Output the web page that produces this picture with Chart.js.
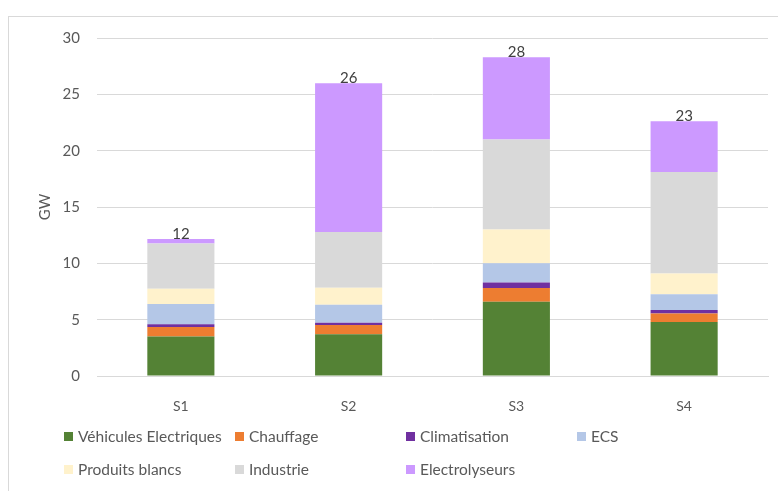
<!doctype html>
<html lang="fr">
  <head>
    <meta charset="UTF-8" />
    <title>Puissance par scénario</title>
    <script src="https://cdn.jsdelivr.net/npm/chart.js"></script>
    <style>
      body { margin: 0; background: white; font-family: Lato, sans-serif; }
      #frame {
        position: absolute; left: 8px; top: 16px; width: 770px; height: 475px;
        border-left: 1px solid #d9d9d9; border-top: 1px solid #d9d9d9;
      }
      #wrap { position: absolute; left: 0; top: 0; width: 778px; height: 491px; }
      #legend { position: absolute; left: 64px; top: 427px; width: 700px; }
      .item {
        position: absolute; display: flex; align-items: center;
        font-size: 15.5px; color: #595959; white-space: nowrap;
      }
      .box { width: 9px; height: 9px; margin-right: 5px; }
    </style>
  </head>
  <body>
    <div id="frame"></div>
    <div id="wrap"><canvas id="chart" width="778" height="491"></canvas></div>
    <div id="legend"></div>

    <script>
      const categories = ["S1", "S2", "S3", "S4"];
      const seriesNames = [
        "Véhicules Electriques",
        "Chauffage",
        "Climatisation",
        "ECS",
        "Produits blancs",
        "Industrie",
        "Electrolyseurs",
      ];
      const vehicules = [3.5, 3.7, 6.6, 4.8];
      const chauffage = [0.85, 0.83, 1.2, 0.75];
      const climatisation = [0.25, 0.2, 0.5, 0.3];
      const ecs = [1.8, 1.6, 1.7, 1.4];
      const produitsBlancs = [1.35, 1.5, 3.0, 1.85];
      const industrie = [4.0, 4.95, 8.0, 9.0];
      const electrolyseurs = [0.4, 13.2, 7.3, 4.5];
      const yTicks = [0, 5, 10, 15, 20, 25, 30];

      const colors = ["#548235", "#ed7d31", "#7030a0", "#b4c7e7", "#fff2cc", "#d9d9d9", "#cc99ff"];
      const values = [vehicules, chauffage, climatisation, ecs, produitsBlancs, industrie, electrolyseurs];

      // totals written above each stack
      const totalLabels = {
        id: "totalLabels",
        afterDatasetsDraw(chart) {
          const ctx = chart.ctx;
          ctx.save();
          ctx.font = "15px Lato";
          ctx.fillStyle = "#404040";
          ctx.textAlign = "center";
          ctx.textBaseline = "middle";
          categories.forEach((c, i) => {
            const total = values.reduce((s, arr) => s + arr[i], 0);
            const x = chart.scales.x.getPixelForValue(i);
            const y = chart.scales.y.getPixelForValue(total);
            ctx.fillText(Math.round(total), x, y - 5);
          });
          ctx.restore();
        },
      };

      const chart = new Chart(document.getElementById("chart"), {
        type: "bar",
        data: {
          labels: categories,
          datasets: seriesNames.map((name, k) => ({
            label: name,
            data: values[k],
            backgroundColor: colors[k],
            borderWidth: 0,
            barPercentage: 0.4,
            categoryPercentage: 1,
          })),
        },
        options: {
          responsive: false,
          animation: false,
          layout: { padding: { top: 38, right: 10, left: 0, bottom: 0 } },
          plugins: { legend: { display: false }, tooltip: { enabled: false } },
          scales: {
            x: {
              stacked: true,
              grid: { display: false },
              border: { color: "#d9d9d9", width: 1 },
              ticks: { color: "#595959", font: { family: "Lato", size: 14 }, padding: 14 },
              afterFit(s) { s.height = 115; },
            },
            y: {
              stacked: true,
              min: 0,
              max: 30,
              afterBuildTicks(s) { s.ticks = yTicks.map((v) => ({ value: v })); },
              grid: { color: "#d9d9d9", drawTicks: false },
              border: { display: false },
              ticks: { color: "#595959", font: { family: "Lato", size: 15 }, padding: 17 },
              title: {
                display: true,
                text: "GW",
                color: "#595959",
                font: { family: "Lato", size: 15 },
                padding: { top: 36, bottom: 0 },
              },
              afterFit(s) { s.width = 97; },
            },
          },
        },
        plugins: [totalLabels],
      });

      // legend laid out in fixed columns like the original
      const legend = document.getElementById("legend");
      chart.data.datasets.forEach((ds, k) => {
        const el = document.createElement("div");
        el.className = "item";
        el.style.left = (k % 4) * 171 + "px";
        el.style.top = Math.floor(k / 4) * 33 + "px";
        el.innerHTML = '<span class="box" style="background:' + ds.backgroundColor + '"></span>' + ds.label;
        legend.appendChild(el);
      });
    </script>
  </body>
</html>
